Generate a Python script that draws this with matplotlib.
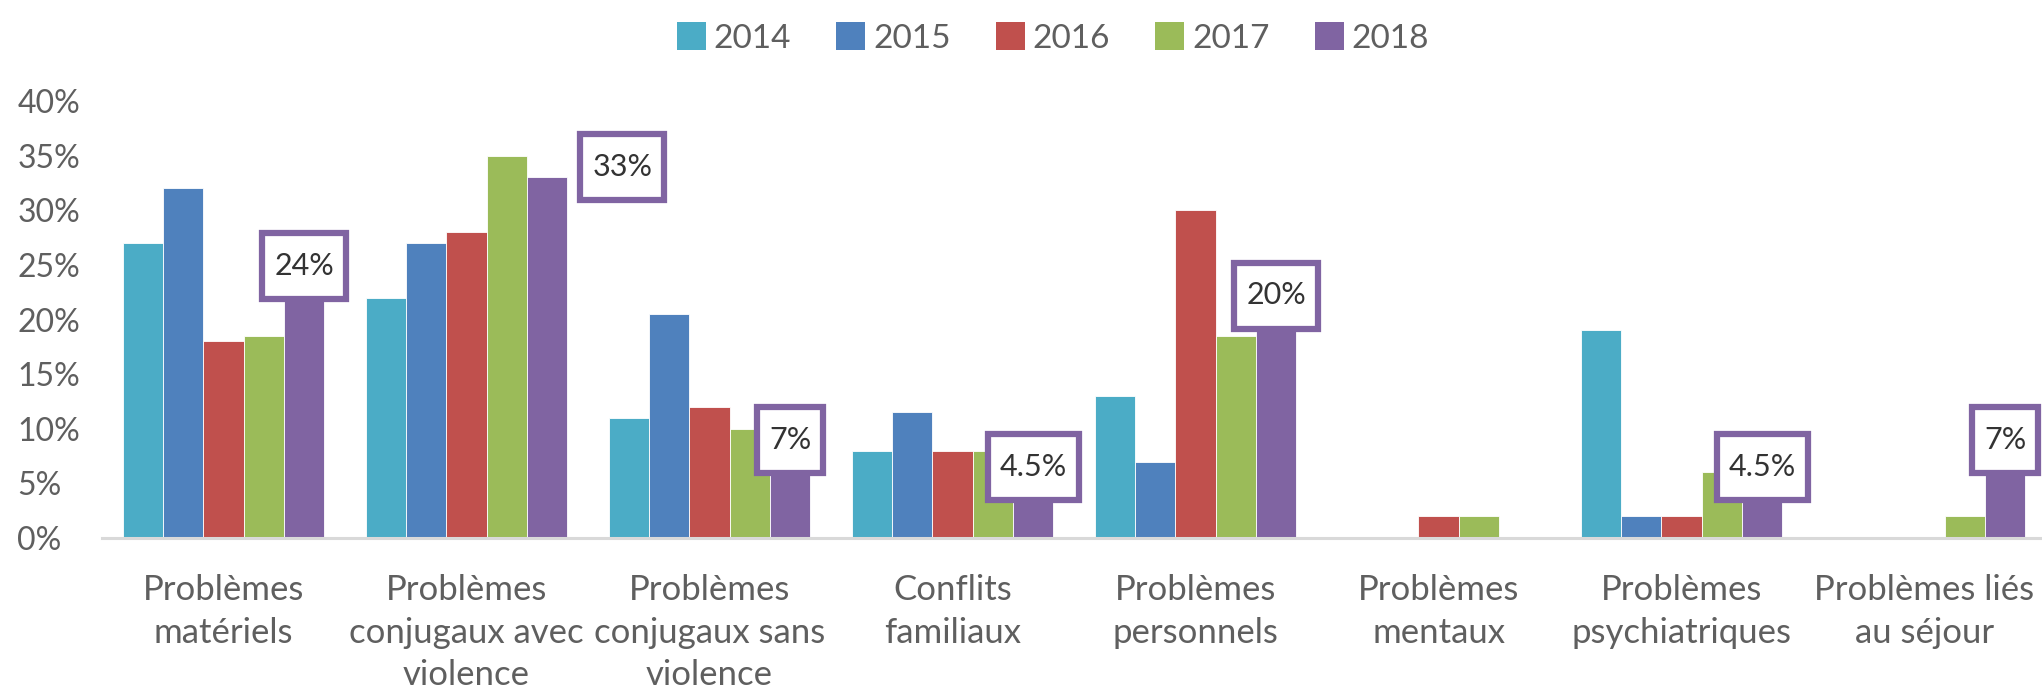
import matplotlib
matplotlib.use("Agg")
import matplotlib.pyplot as plt
from matplotlib.patches import Patch
from matplotlib.path import Path
import numpy as np

plt.rcParams["font.family"] = ["Lato", "DejaVu Sans"]

# Data (percent of cases per year)
categories = [
    "Problèmes\nmatériels",
    "Problèmes\nconjugaux avec\nviolence",
    "Problèmes\nconjugaux sans\nviolence",
    "Conflits\nfamiliaux",
    "Problèmes\npersonnels",
    "Problèmes\nmentaux",
    "Problèmes\npsychiatriques",
    "Problèmes liés\nau séjour",
]
years = ["2014", "2015", "2016", "2017", "2018"]
v2014 = [27, 22, 11, 8, 13, 0, 19, 0]
v2015 = [32, 27, 20.5, 11.5, 7, 0, 2, 0]
v2016 = [18, 28, 12, 8, 30, 2, 2, 0]
v2017 = [18.5, 35, 10, 8, 18.5, 2, 6, 2]
v2018 = [24, 33, 7, 4.5, 20, 0, 4.5, 7]
series = [v2014, v2015, v2016, v2017, v2018]
colors = ["#4BACC6", "#4F81BD", "#C0504D", "#9BBB59", "#8064A2"]

# Callout offsets (pixels) for the 2018 value boxes, relative to bar top
label_dx = [0, 75, 0, 0, 0, 0, 0, 0]
label_dy = [10, 10, 22, 22, 24, 0, 22, 22]

W, H, DPI = 2042, 694, 100


def callout_box(x0, y0, width, height, mutation_size):
    """Rectangle around the text with fixed height and small side padding."""
    padx, half_h = 12, 33
    yc = y0 + height / 2
    verts = [(x0 - padx, yc - half_h), (x0 + width + padx, yc - half_h),
             (x0 + width + padx, yc + half_h), (x0 - padx, yc + half_h),
             (x0 - padx, yc - half_h)]
    codes = [Path.MOVETO, Path.LINETO, Path.LINETO, Path.LINETO, Path.CLOSEPOLY]
    return Path(verts, codes)


fig = plt.figure(figsize=(W / DPI, H / DPI), dpi=DPI)
ax = fig.add_axes([102 / W, 156 / H, 1944 / W, 437 / H])

x = np.arange(len(categories))
bw = 0.166
for i, (vals, col) in enumerate(zip(series, colors)):
    ax.bar(x + (i - 2) * bw, vals, bw, color=col, edgecolor="white",
           linewidth=0.6, zorder=2)

ax.set_xlim(-0.5, len(categories) - 0.5)
ax.set_ylim(0, 40)

for s in ["top", "right", "left"]:
    ax.spines[s].set_visible(False)
ax.spines["bottom"].set_color("#D9D9D9")
ax.spines["bottom"].set_linewidth(2.2)
ax.spines["bottom"].set_zorder(3)

yt = list(range(0, 41, 5))
ax.set_yticks(yt)
ax.set_yticklabels([f"{t}%" for t in yt])
ax.tick_params(axis="y", length=0, pad=61, labelsize=23, labelcolor="#5f5f5f")
for lab in ax.get_yticklabels():
    lab.set_horizontalalignment("left")

ax.set_xticks(x)
ax.set_xticklabels(categories, fontsize=25, color="#5f5f5f", linespacing=1.4)
ax.tick_params(axis="x", length=0, pad=26)

# 2018 value callouts
px2pt = 72 / DPI
for j, v in enumerate(v2018):
    if v == 0:
        continue
    ax.annotate(f"{v:g}%", xy=(x[j] + 2 * bw, v),
                xytext=(label_dx[j] * px2pt, label_dy[j] * px2pt),
                textcoords="offset points", ha="center", va="center",
                fontsize=22, color="#333333", zorder=5,
                bbox=dict(boxstyle=callout_box, fc="white",
                          ec="#8064A2", lw=4.5))

handles = [Patch(facecolor=c, label=y) for c, y in zip(colors, years)]
fig.legend(handles=handles, loc="center", bbox_to_anchor=(1053 / W, 1 - 38 / H),
           ncol=5, frameon=False, fontsize=24, handlelength=0.87,
           handleheight=0.87, handletextpad=0.24, columnspacing=1.35,
           labelcolor="#5f5f5f")

fig.savefig("out.png", dpi=DPI, facecolor="white")
